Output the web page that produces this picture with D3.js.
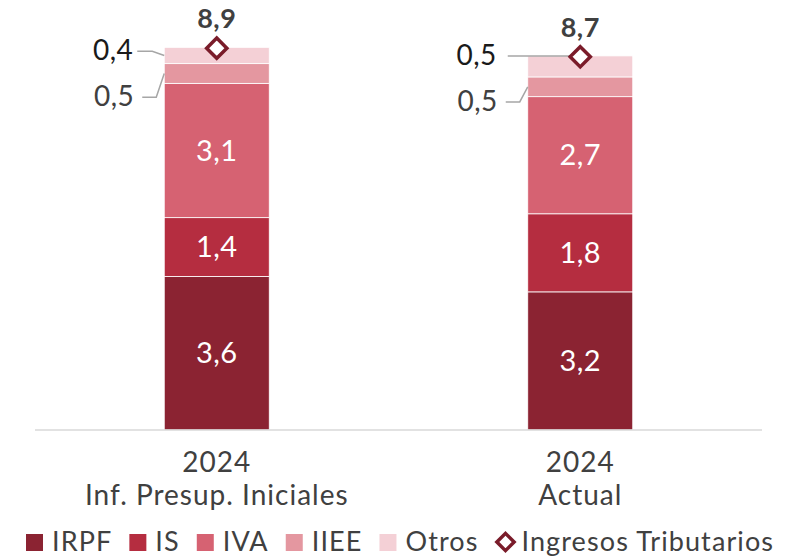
<!DOCTYPE html>
<html>
<head>
<meta charset="utf-8">
<script src="https://cdn.jsdelivr.net/npm/d3@7"></script>
<style>
  body { margin: 0; background: #fff; }
  svg { font-family: "Lato", "Open Sans", sans-serif; }
</style>
</head>
<body>
<svg id="chart" width="796" height="559"></svg>
<script>
// chart data
const categories = ["2024|Inf. Presup. Iniciales", "2024|Actual"]
const seriesNames = ["IRPF", "IS", "IVA", "IIEE", "Otros"]
const irpf = [3.58, 3.22]
const is = [1.37, 1.82]
const iva = [3.13, 2.73]
const iiee = [0.46, 0.46]
const otros = [0.38, 0.49]
const totals = [8.9, 8.7]   // Ingresos Tributarios
const totalName = "Ingresos Tributarios"

const colors = ["#8b2332", "#b52d40", "#d66272", "#e497a0", "#f4d0d6"]
const diamondColor = "#7a1c2a"
const textColor = "#404040"

const svg = d3.select("#chart")
const fmt = v => d3.format(".1f")(v).replace(".", ",")

const rows = categories.map((c, i) => ({
  cat: c, IRPF: irpf[i], IS: is[i], IVA: iva[i], IIEE: iiee[i], Otros: otros[i], total: totals[i]
}))
const stack = d3.stack().keys(seriesNames)(rows)

const x = d3.scalePoint().domain(categories).range([35, 762]).padding(0.5)
const y = d3.scaleLinear().domain([0, 10]).range([430, 1])
const barW = 105

// bars
const layers = svg.append("g").selectAll("g")
  .data(stack).enter().append("g")
  .attr("fill", (d, i) => colors[i])

layers.selectAll("rect")
  .data(d => d).enter().append("rect")
  .attr("x", d => x(d.data.cat) - barW / 2)
  .attr("y", d => y(d[1]))
  .attr("width", barW)
  .attr("height", d => y(d[0]) - y(d[1]))
  .attr("stroke", "#fff")
  .attr("stroke-width", 0.8)

// axis line
svg.append("line")
  .attr("x1", 35).attr("x2", 762)
  .attr("y1", y(0)).attr("y2", y(0))
  .attr("stroke", "#d9d9d9").attr("stroke-width", 1.5)

// category labels
categories.forEach(c => {
  const parts = c.split("|")
  const t = svg.append("text")
    .attr("text-anchor", "middle")
    .attr("fill", textColor)
    .style("font-size", "28px")
    .style("letter-spacing", "1px")
  t.append("tspan").attr("x", x(c)).attr("y", 472).text(parts[0])
  t.append("tspan").attr("x", x(c)).attr("y", 505).text(parts[1])
})

// labels inside big segments
stack.slice(0, 3).forEach(layer => {
  layer.forEach(d => {
    svg.append("text")
      .attr("x", x(d.data.cat))
      .attr("y", (y(d[0]) + y(d[1])) / 2 + 10)
      .attr("text-anchor", "middle")
      .attr("fill", "#fff")
      .style("font-size", "29px")
      .style("letter-spacing", "0.5px")
      .text(fmt(d[1] - d[0]))
  })
})

// small segment labels on the left, with leader lines
const leaderG = svg.append("g").attr("fill", "none").attr("stroke", "#a6a6a6").attr("stroke-width", 1.5)
const otrosLayer = stack[4], iieeLayer = stack[3]
const otrosLy = []
// Otros
otrosLayer.forEach((d, i) => {
  const cx = x(d.data.cat), left = cx - barW / 2
  const mid = (y(d[0]) + y(d[1])) / 2
  let ly, pts
  if (i === 0) {
    ly = y(d[1]) + 4
    pts = [[left - 27, ly], [left - 12, ly], [left, mid]]
  } else {
    ly = y(d[1])
    pts = [[left - 20, ly], [cx, ly]]
  }
  otrosLy.push(ly)
  leaderG.append("path").attr("d", d3.line()(pts))
  svg.append("text")
    .attr("x", left - 31).attr("y", ly + 9)
    .attr("text-anchor", "end")
    .attr("fill", "#1a1a1a")
    .style("font-size", "28px")
    .style("letter-spacing", "0.5px")
    .text(fmt(d[1] - d[0]))
})
// IIEE
iieeLayer.forEach((d, i) => {
  const left = x(d.data.cat) - barW / 2
  const mid = (y(d[0]) + y(d[1])) / 2
  const ly = otrosLy[i] + 46
  leaderG.append("path").attr("d", d3.line()([[left - 22, ly], [left - 8, ly], [left, mid]]))
  svg.append("text")
    .attr("x", left - 30).attr("y", ly + 9)
    .attr("text-anchor", "end")
    .attr("fill", textColor)
    .style("font-size", "28px")
    .style("letter-spacing", "0.5px")
    .text(fmt(d[1] - d[0]))
})

// total diamonds + labels
const diamond = d3.symbol().type(d3.symbolDiamond2).size(260)
rows.forEach(r => {
  svg.append("path")
    .attr("d", diamond())
    .attr("transform", `translate(${x(r.cat)},${y(r.total)})`)
    .attr("fill", "#fff")
    .attr("stroke", diamondColor)
    .attr("stroke-width", 3.5)
  svg.append("text")
    .attr("x", x(r.cat)).attr("y", y(r.total) - 20)
    .attr("text-anchor", "middle")
    .attr("fill", textColor)
    .style("font-size", "27px")
    .style("font-weight", "bold")
    .style("letter-spacing", "0.5px")
    .text(fmt(r.total))
})

// legend
const legend = svg.append("g").attr("transform", "translate(26,551)")
let lx = 0
const legendItems = seriesNames.map((n, i) => ({ name: n, color: colors[i], kind: "rect" }))
legendItems.push({ name: totalName, color: diamondColor, kind: "diamond" })
legendItems.forEach(it => {
  const g = legend.append("g").attr("transform", `translate(${lx},0)`)
  if (it.kind === "rect") {
    g.append("rect").attr("x", 0).attr("y", -17).attr("width", 17).attr("height", 17).attr("fill", it.color)
  } else {
    g.append("path").attr("d", d3.symbol().type(d3.symbolDiamond2).size(190)())
      .attr("transform", "translate(10,-9)")
      .attr("fill", "#fff").attr("stroke", it.color).attr("stroke-width", 3.5)
  }
  const t = g.append("text")
    .attr("x", 26)
    .attr("y", 0)
    .attr("fill", textColor)
    .style("font-size", "27px")
    .style("letter-spacing", "1.1px")
    .text(it.name)
  lx += 26 + t.node().getComputedTextLength() + 17
})
</script>
</body>
</html>
